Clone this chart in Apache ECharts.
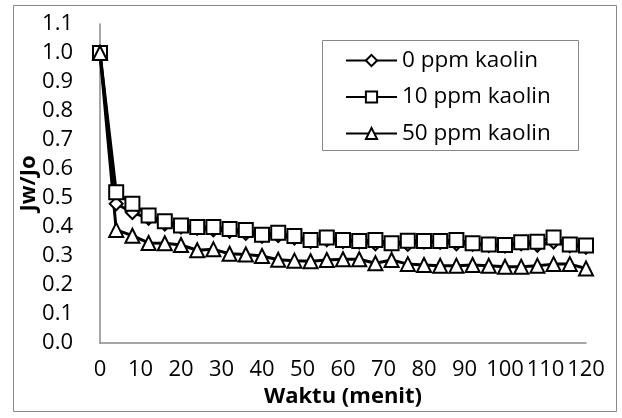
<!DOCTYPE html>
<html>
<head>
<meta charset="utf-8">
<script src="https://cdn.jsdelivr.net/npm/echarts@6/dist/echarts.min.js"></script>
<style>
html,body{margin:0;padding:0;background:#fff;}
#chart{width:622px;height:418px;}
</style>
</head>
<body>
<div id="chart"></div>
<script>
var time = [0,4,8,12,16,20,24,28,32,36,40,44,48,52,56,60,64,68,72,76,80,84,88,92,96,100,104,108,112,116,120];
var kaolin0 = [1.0,0.48,0.45,0.43,0.41,0.40,0.395,0.39,0.385,0.378,0.368,0.37,0.362,0.35,0.356,0.35,0.348,0.342,0.34,0.34,0.348,0.347,0.342,0.34,0.336,0.334,0.342,0.337,0.348,0.335,0.33];
var kaolin10 = [1.0,0.52,0.48,0.44,0.42,0.405,0.40,0.40,0.393,0.39,0.373,0.38,0.369,0.355,0.364,0.355,0.352,0.355,0.344,0.353,0.352,0.352,0.355,0.344,0.340,0.338,0.347,0.349,0.364,0.340,0.336];
var kaolin50 = [1.0,0.39,0.37,0.345,0.344,0.338,0.32,0.323,0.308,0.305,0.30,0.287,0.284,0.282,0.286,0.289,0.289,0.275,0.286,0.272,0.269,0.266,0.266,0.269,0.266,0.263,0.263,0.266,0.272,0.272,0.257];
var seriesNames = ['0 ppm kaolin','10 ppm kaolin','50 ppm kaolin'];
var xTitle = 'Waktu (menit)';
var yTitle = 'Jw/Jo';

function pairs(arr){ return time.map(function(t,i){ return [t, arr[i]]; }); }

var FONT = 'Open Sans';
var chart = echarts.init(document.getElementById('chart'), null, {renderer:'canvas'});
function mkSeries(name, data, symbol, size){
  return {
    name: name, type: 'line', data: pairs(data),
    symbol: symbol, symbolSize: size, showAllSymbol: true,
    lineStyle: {color:'#000', width: 3},
    itemStyle: {color:'#fff', borderColor:'#000', borderWidth: 2},
    emphasis: {disabled: true},
    animation: false
  };
}
chart.setOption({
  animation: false,
  textStyle: {fontFamily: FONT},
  graphic: [
    {type:'rect', shape:{x:13.5, y:5.5, width:603, height:406}, style:{fill:'none', stroke:'#888', lineWidth:1}, silent:true},
    {type:'rect', shape:{x:322.5, y:40.5, width:256, height:110}, style:{fill:'#fff', stroke:'#888', lineWidth:1}, silent:true, z:0}
  ],
  grid: {left:100, right:36, top:24, bottom:75, containLabel:false},
  legend: {
    left: 345, top: 49, orient:'vertical', padding: 0,
    itemWidth: 51, itemHeight: 14, itemGap: 13.5,
    textStyle: {fontFamily: FONT, fontSize: 22.5, color:'#000', lineHeight: 22},
    data: seriesNames,
    z: 5
  },
  xAxis: {
    type:'value', min:0, max:120, interval:10,
    name: xTitle, nameLocation:'middle', nameGap: 43, nameMoveOverlap: false,
    nameTextStyle: {fontFamily: FONT, fontSize: 22, fontWeight:'bold', color:'#000', lineHeight:22},
    axisLine: {show:true, onZero:false, lineStyle:{color:'#888', width:1.5}},
    axisTick: {show:false},
    splitLine: {show:false},
    axisLabel: {fontFamily: FONT, fontSize: 22, color:'#000', margin: 16, lineHeight: 22}
  },
  yAxis: {
    type:'value', min:0, max:1.1, interval:0.1,
    name: yTitle, nameLocation:'middle', nameGap: 60, nameRotate: 90, nameMoveOverlap: false,
    nameTextStyle: {fontFamily: FONT, fontSize: 22, fontWeight:'bold', color:'#000', lineHeight:22},
    axisLine: {show:true, lineStyle:{color:'#888', width:1.5}},
    axisTick: {show:false},
    splitLine: {show:false},
    axisLabel: {fontFamily: FONT, fontSize: 22, color:'#000', margin: 27, formatter: function(v){ return v.toFixed(1); }}
  },
  series: [
    mkSeries(seriesNames[0], kaolin0, 'diamond', 13),
    mkSeries(seriesNames[1], kaolin10, 'rect', 14),
    mkSeries(seriesNames[2], kaolin50, 'triangle', 14)
  ]
});
</script>
</body>
</html>
